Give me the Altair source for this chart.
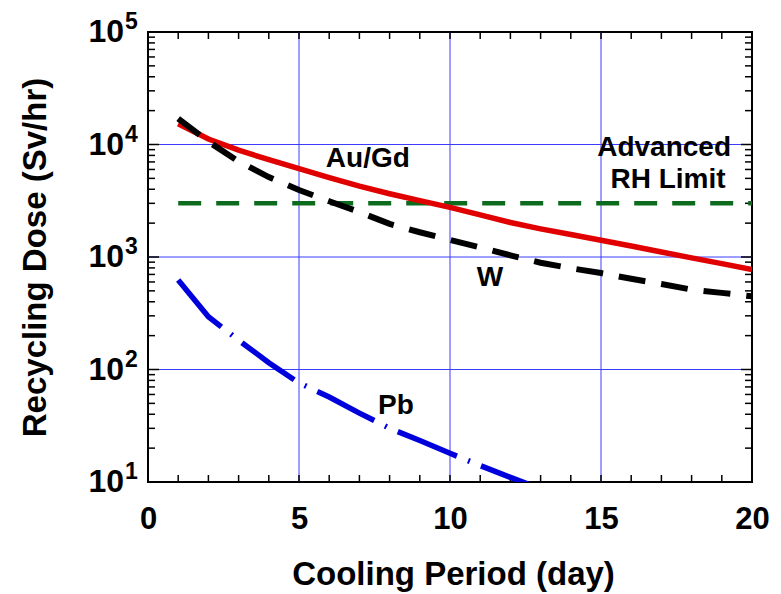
import altair as alt
import pandas as pd

# ---- data ----
days = list(range(1, 21))
au_gd = [15300, 11200, 8900, 7330, 6100, 5080, 4260, 3650, 3170, 2760,
         2365, 2025, 1780, 1585, 1410, 1253, 1107, 982, 873, 775]
w_dose = [17000, 10600, 7080, 5130, 3940, 3130, 2510, 1970, 1660, 1420,
          1216, 1035, 890, 795, 720, 640, 575, 513, 480, 447]
pb_days = list(range(1, 14))
pb_dose = [625, 295, 182, 115, 76, 57, 41, 30, 23.4, 18, 14, 11, 8.7]
limit_days = [1, 20]
limit_dose = [3000, 3000]

x_ticks = [0, 5, 10, 15, 20]
x_grid = [5, 10, 15]
x_minor = list(range(1, 20))
y_major = [10, 100, 1000, 10000, 100000]
y_exp = ["1", "2", "3", "4", "5"]
y_grid = [100, 1000, 10000]
y_minor = [m * 10 ** k for k in range(1, 5) for m in range(2, 10)]

labels = ["Au/Gd", "W", "Pb", "Advanced", "RH Limit"]
label_x = [7.28, 11.32, 8.21, 17.09, 17.22]
label_y = [7500, 650, 47, 9400, 4790]

FONT = "Liberation Sans"
W, H = 604, 450

xscale = alt.Scale(domain=[0, 20], nice=False, zero=False)
yscale = alt.Scale(type="log", domain=[10, 100000], nice=False)
xaxis = alt.Axis(values=x_ticks, grid=False, ticks=False, domain=False,
                 labelFontSize=31, labelFont=FONT, labelFontWeight="bold",
                 labelColor="black", labelPadding=22, labelFlush=False,
                 title="Cooling Period (day)", titleFont=FONT, titleFontSize=33,
                 titleFontWeight="bold", titleColor="black",
                 titleX=305, titleY=92, titleBaseline="middle")
yaxis = alt.Axis(labels=False, grid=False, ticks=False, domain=False,
                 values=y_major,
                 title="Recycling Dose (Sv/hr)", titleFont=FONT, titleFontSize=33,
                 titleFontWeight="bold", titleColor="black",
                 titleX=-113, titleY=225, titleBaseline="middle", titleAngle=-90)


def X(f):
    return alt.X(f"{f}:Q", scale=xscale, axis=xaxis)


def Y(f):
    return alt.Y(f"{f}:Q", scale=yscale, axis=yaxis)


# grid
gx = alt.Chart(pd.DataFrame({"x": x_grid})).mark_rule(
    color="#3c3cff", strokeWidth=1).encode(x=X("x"))
gy = alt.Chart(pd.DataFrame({"y": y_grid})).mark_rule(
    color="#3c3cff", strokeWidth=1).encode(y=Y("y"))

# inward ticks (data-driven positions)
xt = pd.DataFrame({"x": x_minor})
xt_bottom = alt.Chart(xt).mark_rule(color="black", strokeWidth=1.5).encode(
    x=X("x"), y=alt.value(H), y2=alt.value(H - 7))
xt_top = alt.Chart(xt).mark_rule(color="black", strokeWidth=1.5).encode(
    x=X("x"), y=alt.value(0), y2=alt.value(7))
ymn = pd.DataFrame({"y": y_minor})
ymj = pd.DataFrame({"y": y_grid})
yt_left = alt.Chart(ymn).mark_rule(color="black", strokeWidth=1.5).encode(
    y=Y("y"), x=alt.value(0), x2=alt.value(7))
yt_right = alt.Chart(ymn).mark_rule(color="black", strokeWidth=1.5).encode(
    y=Y("y"), x=alt.value(W), x2=alt.value(W - 7))
yj_left = alt.Chart(ymj).mark_rule(color="black", strokeWidth=1.5).encode(
    y=Y("y"), x=alt.value(0), x2=alt.value(11))
yj_right = alt.Chart(ymj).mark_rule(color="black", strokeWidth=1.5).encode(
    y=Y("y"), x=alt.value(W), x2=alt.value(W - 11))

# y tick labels 10^n
ylab = pd.DataFrame({"y": y_major, "base": ["10"] * 5, "exp": y_exp})
ylab_base = alt.Chart(ylab).mark_text(
    align="right", baseline="alphabetic", dx=-24, dy=10, fontSize=32,
    font=FONT, fontWeight="bold", color="black").encode(
    y=Y("y"), x=alt.value(0), text="base:N")
ylab_exp = alt.Chart(ylab).mark_text(
    align="left", baseline="alphabetic", dx=-23, dy=-3, fontSize=23,
    font=FONT, fontWeight="bold", color="black").encode(
    y=Y("y"), x=alt.value(0), text="exp:N")

# series
limit = alt.Chart(pd.DataFrame({"x": limit_days, "y": limit_dose})).mark_line(
    color="#0d6b1e", strokeWidth=4.5, strokeDash=[23, 15], clip=True).encode(
    x=X("x"), y=Y("y"))
red = alt.Chart(pd.DataFrame({"x": days, "y": au_gd})).mark_line(
    color="#e00000", strokeWidth=5.5, clip=True).encode(x=X("x"), y=Y("y"))
black = alt.Chart(pd.DataFrame({"x": days, "y": w_dose})).mark_line(
    color="black", strokeWidth=6, strokeDash=[27, 16], clip=True).encode(
    x=X("x"), y=Y("y"))
blue = alt.Chart(pd.DataFrame({"x": pb_days, "y": pb_dose})).mark_line(
    color="#0000dd", strokeWidth=5.5, strokeDash=[64, 12, 2, 12], clip=True).encode(
    x=X("x"), y=Y("y"))

ann = alt.Chart(pd.DataFrame({"x": label_x, "y": label_y, "t": labels})).mark_text(
    fontSize=28, font=FONT, fontWeight="bold", color="black",
    baseline="middle", align="center").encode(x=X("x"), y=Y("y"), text="t:N")

chart = alt.layer(
    gx, gy, xt_bottom, xt_top, yt_left, yt_right, yj_left, yj_right,
    limit, red, black, blue, ann, ylab_base, ylab_exp
).properties(
    width=W, height=H, autosize=alt.AutoSizeParams(type="none"),
    padding={"left": 140, "top": 24, "right": 21, "bottom": 112},
    background="white"
).configure_view(stroke="black", strokeWidth=2)

chart.save("out.html", embed_options={"renderer": "svg", "actions": False})
